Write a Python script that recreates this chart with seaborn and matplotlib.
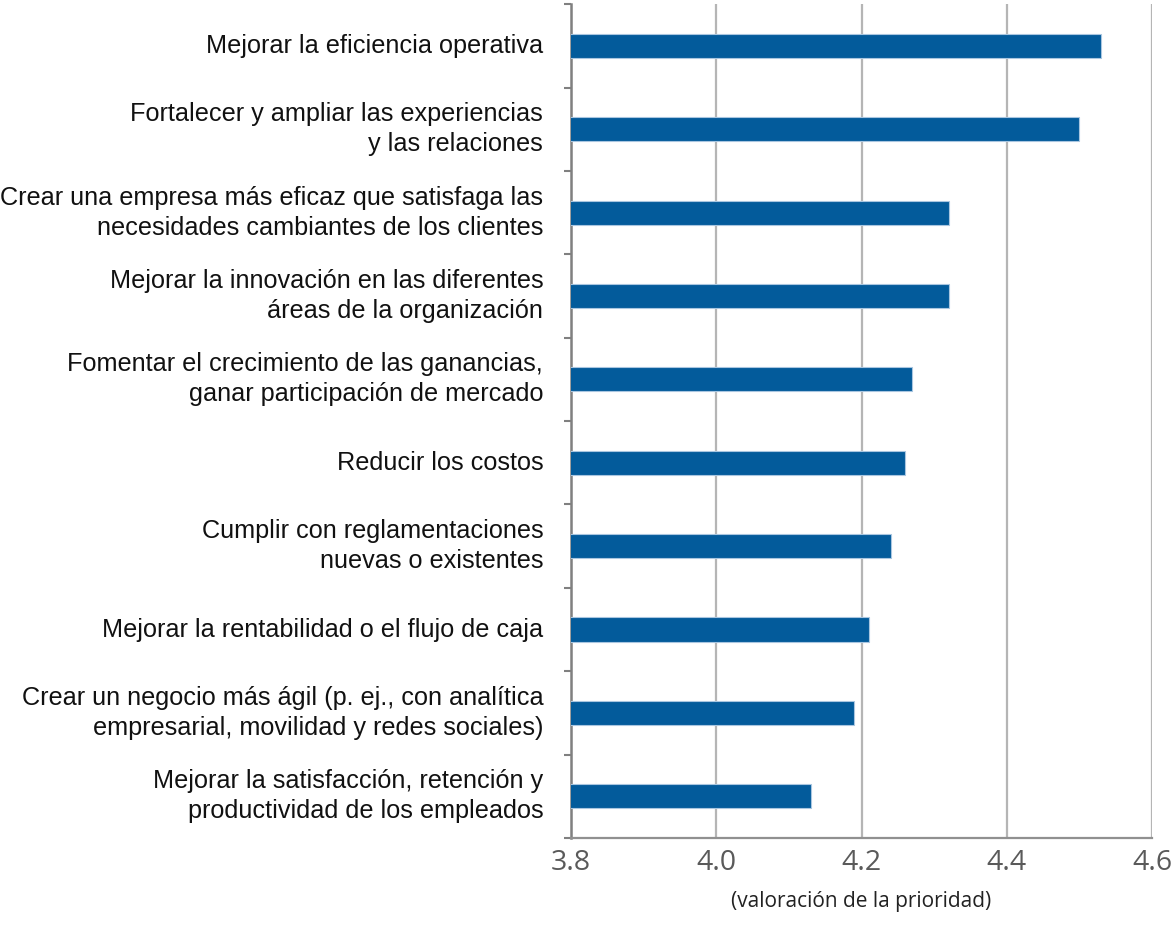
import matplotlib
matplotlib.use("Agg")
import matplotlib.pyplot as plt
import numpy as np
import pandas as pd
import seaborn as sns

# Business priorities and their average priority rating
priorities = [
    "Mejorar la eficiencia operativa",
    "Fortalecer y ampliar las experiencias\ny las relaciones",
    "Crear una empresa más eficaz que satisfaga las\nnecesidades cambiantes de los clientes",
    "Mejorar la innovación en las diferentes\náreas de la organización",
    "Fomentar el crecimiento de las ganancias,\nganar participación de mercado",
    "Reducir los costos",
    "Cumplir con reglamentaciones\nnuevas o existentes",
    "Mejorar la rentabilidad o el flujo de caja",
    "Crear un negocio más ágil (p. ej., con analítica\nempresarial, movilidad y redes sociales)",
    "Mejorar la satisfacción, retención y\nproductividad de los empleados",
]
ratings = [4.53, 4.50, 4.32, 4.32, 4.27, 4.26, 4.24, 4.21, 4.19, 4.13]
x_ticks = [3.8, 4.0, 4.2, 4.4, 4.6]
x_label = "(valoración de la prioridad)"

df = pd.DataFrame({"prioridad": priorities, "valoracion": ratings})

sns.set_theme(style="white")
plt.rcParams["font.family"] = ["Liberation Sans", "DejaVu Sans"]

fig = plt.figure(figsize=(11.72, 9.39), dpi=100)
ax = fig.add_axes([0.4872, 0.1076, 0.983 - 0.4872, 0.9955 - 0.1076])

sns.barplot(data=df, x="valoracion", y="prioridad", orient="h",
            color="#035B9B", width=0.29, ax=ax, zorder=3,
            edgecolor="#a9c6e0", linewidth=0.8, saturation=1)

ax.set_xlim(3.8, 4.6)
ax.set_ylim(len(priorities) - 0.5, -0.5)
ax.set_xticks(x_ticks)
ax.set_xticklabels([f"{v:.1f}" for v in x_ticks], family="Open Sans",
                   fontsize=20.5, color="#5a5a5a")
ax.tick_params(axis="x", direction="out", length=6, width=1.5,
               color="#909090", pad=2)

# Category separators as outward ticks on the left spine
ax.set_yticks(np.arange(len(priorities)))
ax.set_yticklabels(priorities, fontsize=18.2, color="#111111",
                   linespacing=1.32, va="center")
ax.tick_params(axis="y", which="major", length=0, pad=20)
ax.set_yticks(np.arange(-0.5, len(priorities) + 0.5, 1), minor=True)
ax.tick_params(axis="y", which="minor", direction="out", length=5,
               width=1.5, color="#808080", left=True)

ax.grid(axis="x", color="#b5b5b5", linewidth=1.6, zorder=0)
ax.grid(axis="y", visible=False)
ax.set_axisbelow(True)

for side in ["top", "right"]:
    ax.spines[side].set_visible(False)
ax.spines["left"].set_color("#808080")
ax.spines["left"].set_linewidth(1.8)
ax.spines["bottom"].set_color("#909090")
ax.spines["bottom"].set_linewidth(1.6)

ax.set_ylabel("")
ax.set_xlabel(x_label, family="Open Sans", fontsize=15, color="#222222",
              labelpad=10)

fig.savefig("out.png", dpi=100, facecolor="white")
